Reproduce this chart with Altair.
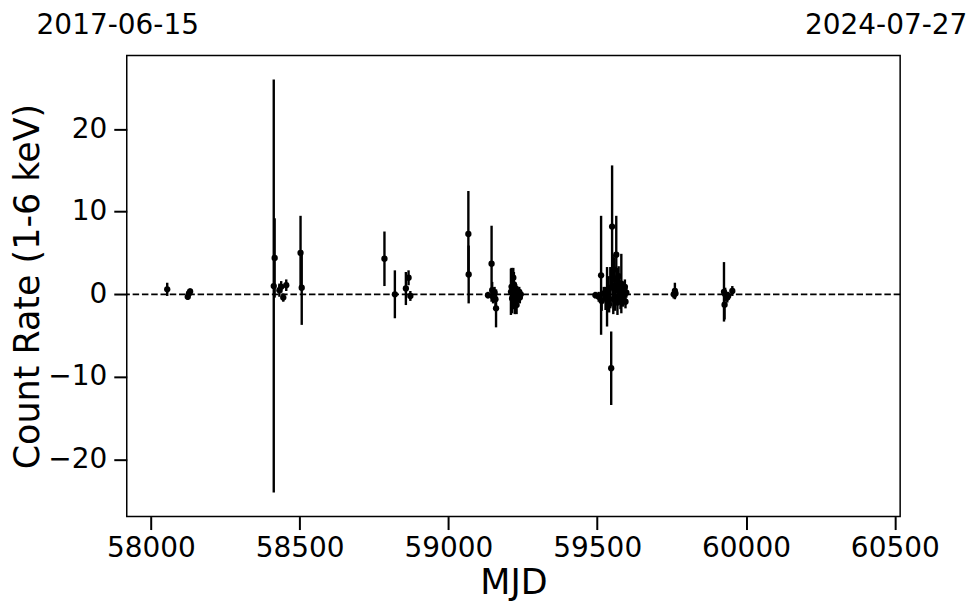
import altair as alt
import pandas as pd

# Light-curve points: MJD, count rate (1-6 keV), 1-sigma error
mjd = [
    58055, 58124, 58128, 58132,
    58413, 58416, 58432, 58438, 58445, 58455, 58503, 58507,
    58785, 58820, 58857, 58866, 58872,
    59067, 59068, 59133, 59145, 59147, 59150, 59155, 59158, 59160,
    59210, 59212, 59214, 59216, 59218, 59219, 59220, 59222, 59223, 59225,
    59226, 59228, 59229, 59231, 59232, 59234, 59236, 59238, 59240, 59243,
    59494, 59505, 59513, 59515, 59522, 59528, 59533, 59537, 59540, 59544,
    59547, 59550, 59552, 59554, 59556, 59558, 59560, 59564, 59566, 59568,
    59570, 59572, 59574, 59576, 59578, 59581, 59584, 59587, 59590, 59593,
    59595, 59598,
    59757, 59761, 59763, 59926, 59928, 59930, 59937, 59940, 59954,
]
rate = [
    0.6, -0.3, 0.1, 0.35,
    1.0, 4.4, 0.5, 0.9, -0.4, 1.1, 5.0, 0.8,
    4.3, 0.0, 0.7, 2.0, -0.2,
    7.3, 2.4, -0.1, 3.7, 0.5, -0.3, 0.2, -0.6, -1.7,
    0.3, 0.9, -0.5, 0.5, 2.0, -0.8, 1.2, 0.0, -1.0, 0.6,
    -0.3, 0.2, -1.3, 0.4, -0.6, 0.1, -0.2, 0.3, -0.4, 0.0,
    -0.1, -0.3, 2.3, -0.8, 0.1, -0.5, -0.3, 0.4, -1.2, 0.8,
    -8.95, 8.2, 2.0, -0.6, 3.0, 1.0, -0.4, 4.8, 1.8, -1.0,
    0.6, 2.2, -0.2, 0.9, -0.7, 1.3, 0.3, -0.5, 0.5, 0.9,
    -0.9, 0.2,
    0.0, 0.4, 0.1, 0.3, -1.25, 0.0, -0.4, -0.2, 0.4,
]
err = [
    0.8, 0.35, 0.4, 0.35,
    25.0, 4.8, 0.8, 0.7, 0.5, 0.7, 4.5, 4.5,
    3.3, 2.9, 2.0, 0.9, 0.6,
    5.2, 3.5, 0.4, 4.6, 1.0, 0.8, 0.7, 1.0, 2.3,
    2.8, 2.3, 1.8, 1.2, 1.2, 1.0, 1.5, 0.9, 1.4, 0.8,
    0.7, 1.0, 1.1, 0.6, 0.9, 0.5, 0.8, 0.6, 0.7, 0.5,
    0.4, 0.6, 7.2, 1.2, 0.8, 1.4, 3.6, 1.8, 1.0, 2.5,
    4.45, 7.4, 2.8, 1.8, 1.5, 1.2, 1.6, 4.7, 1.4, 1.5,
    1.0, 1.2, 0.9, 0.8, 1.1, 3.6, 0.8, 1.0, 0.7, 0.9,
    0.8, 0.6,
    0.5, 1.0, 0.5, 3.6, 1.8, 0.8, 0.6, 0.5, 0.6,
]

x_ticks = [58000, 58500, 59000, 59500, 60000, 60500]
y_ticks = [-20, -10, 0, 10, 20]
x_domain = [57919, 60518]
y_domain = [-26.9, 28.9]

date_labels = ["2017-06-15", "2024-07-27"]
date_mjd = [57919, 60518]

df = pd.DataFrame({"mjd": mjd, "rate": rate, "err": err})

FONT = "DejaVu Sans"
xscale = alt.Scale(domain=x_domain, nice=False, zero=False)
yscale = alt.Scale(domain=y_domain, nice=False, zero=False)

xaxis = alt.Axis(values=x_ticks, format="d", title="MJD")
yaxis = alt.Axis(
    values=y_ticks,
    format="d",
    title="Count Rate (1-6 keV)",
    labelExpr="datum.value < 0 ? '\u2212' + abs(datum.value) : datum.label",
)

base = alt.Chart(df).transform_calculate(
    lo="datum.rate - datum.err", hi="datum.rate + datum.err"
)

bars = base.mark_rule(color="black", strokeWidth=2.4).encode(
    x=alt.X("mjd:Q", scale=xscale, axis=xaxis),
    y=alt.Y("lo:Q", scale=yscale, axis=yaxis),
    y2="hi:Q",
)

pts = base.mark_circle(color="black", size=40, opacity=1).encode(
    x=alt.X("mjd:Q", scale=xscale),
    y=alt.Y("rate:Q", scale=yscale),
)

zero = alt.Chart(pd.DataFrame({"y0": [0]})).mark_rule(
    color="black", strokeWidth=1.8, strokeDash=[6.5, 2.8]
).encode(y=alt.Y("y0:Q", scale=yscale))

left_lab = alt.Chart(
    pd.DataFrame({"mjd": [date_mjd[0]], "label": [date_labels[0]]})
).mark_text(font=FONT, fontSize=28, color="black", align="center", baseline="alphabetic", dx=-9).encode(
    x=alt.X("mjd:Q", scale=xscale), y=alt.value(-22), text="label:N"
)
right_lab = alt.Chart(
    pd.DataFrame({"mjd": [date_mjd[1]], "label": [date_labels[1]]})
).mark_text(font=FONT, fontSize=28, color="black", align="center", baseline="alphabetic", dx=-14).encode(
    x=alt.X("mjd:Q", scale=xscale), y=alt.value(-22), text="label:N"
)

chart = (
    alt.layer(bars, pts, zero, left_lab, right_lab)
    .properties(
        width=775,
        height=462,
        autosize=alt.AutoSizeParams(type="none"),
        padding={"left": 119, "top": 47, "right": 72, "bottom": 88},
    )
    .configure_view(stroke="black", strokeWidth=1.5)
    .configure_axis(
        domain=False,
        grid=False,
        ticks=True,
        tickColor="black",
        tickSize=13,
        tickWidth=2,
        labelFont=FONT,
        labelFontSize=28,
        labelColor="black",
        titleFont=FONT,
        titleFontSize=35,
        titleFontWeight="normal",
        titleColor="black",
    )
    .configure_axisX(labelPadding=5, titlePadding=3)
    .configure_axisY(labelPadding=7, titlePadding=2)
)

chart.save("out.html", embed_options={"renderer": "svg", "actions": False})
